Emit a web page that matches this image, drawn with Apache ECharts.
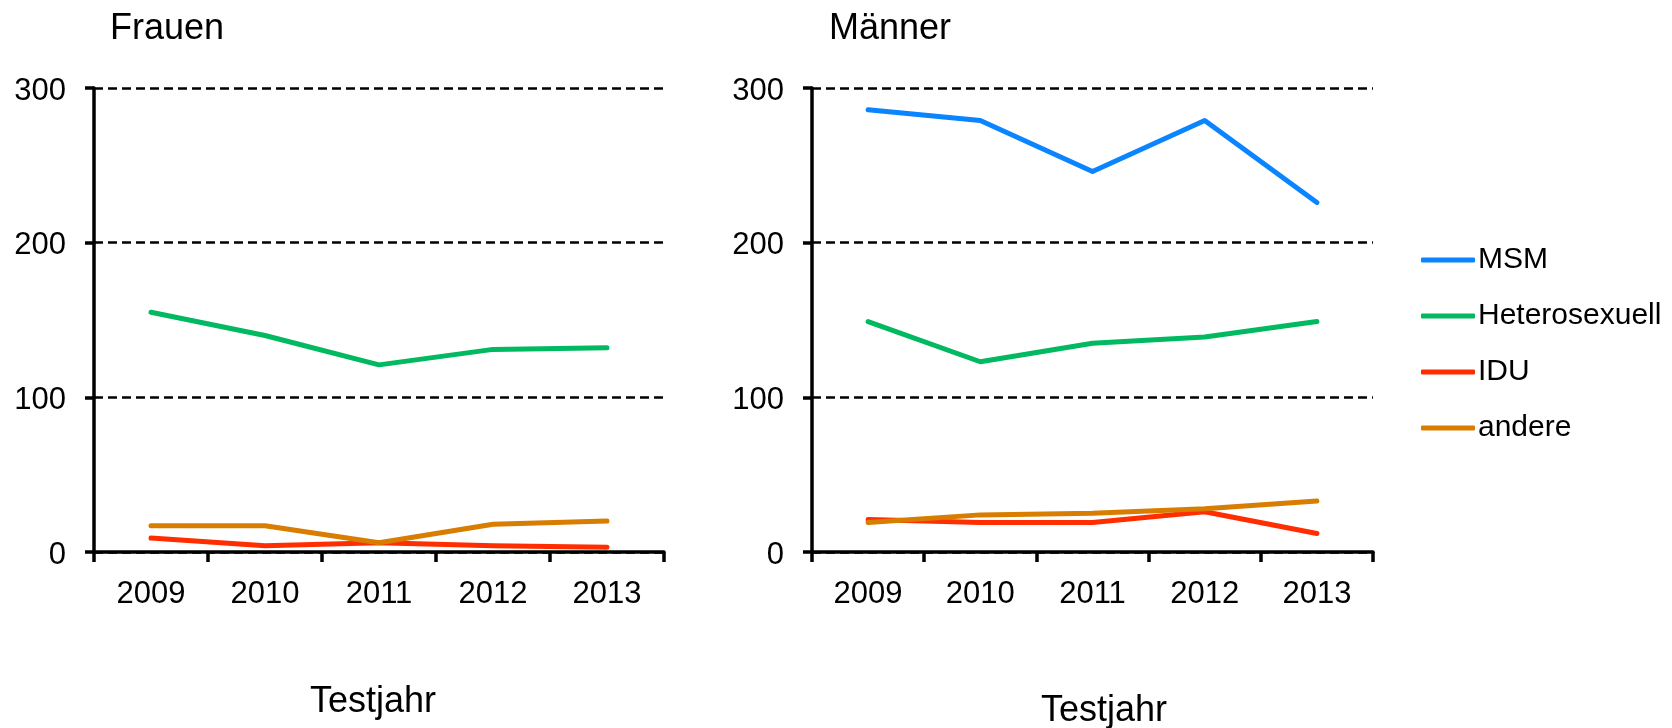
<!DOCTYPE html>
<html>
<head>
<meta charset="utf-8">
<script src="https://cdn.jsdelivr.net/npm/echarts@6/dist/echarts.min.js"></script>
<style>
  html, body { margin: 0; padding: 0; background: #fff; }
  #main { width: 1672px; height: 728px; }
</style>
</head>
<body>
<div id="main"></div>
<script>
// Testjahre
var years = ['2009', '2010', '2011', '2012', '2013'];
var seriesNames = ['MSM', 'Heterosexuell', 'IDU', 'andere'];
var yTicks = [0, 100, 200, 300];

// Frauen
var frauenHetero = [155, 140, 121, 131, 132];
var frauenIdu = [9, 4, 6, 4, 3];
var frauenAndere = [17, 17, 6, 18, 20];

// Männer
var maennerMsm = [286, 279, 246, 279, 226];
var maennerHetero = [149, 123, 135, 139, 149];
var maennerIdu = [21, 19, 19, 26, 12];
var maennerAndere = [19, 24, 25, 28, 33];

var colors = {
  'MSM': '#0b84ff',
  'Heterosexuell': '#00b960',
  'IDU': '#ff2d00',
  'andere': '#d97d00'
};

var font = '"Liberation Sans", Arial, sans-serif';

var chart = echarts.init(document.getElementById('main'), null, { renderer: 'canvas' });

function xAxisFor(idx) {
  return {
    type: 'category',
    gridIndex: idx,
    data: years,
    boundaryGap: true,
    axisLine: { lineStyle: { color: '#000', width: 3.5 } },
    axisTick: { show: true, length: 10, lineStyle: { color: '#000', width: 3.5 } },
    axisLabel: { color: '#000', fontSize: 31, fontFamily: font, margin: 27 },
    splitLine: { show: false }
  };
}

function yAxisFor(idx) {
  return {
    type: 'value',
    gridIndex: idx,
    min: yTicks[0],
    max: yTicks[yTicks.length - 1],
    interval: 100,
    axisLine: { show: true, lineStyle: { color: '#000', width: 3.5 } },
    axisTick: { show: true, length: 9, lineStyle: { color: '#000', width: 3.5 } },
    // small line box so the digits sit a little below the gridline, as in the original
    axisLabel: { color: '#000', fontSize: 31, fontFamily: font, margin: 28, verticalAlign: 'top', lineHeight: 6 },
    splitLine: { show: true, lineStyle: { color: '#000', width: 2.5, type: [9, 5] } }
  };
}

function line(name, data, idx) {
  return {
    name: name,
    type: 'line',
    xAxisIndex: idx,
    yAxisIndex: idx,
    data: data,
    symbol: 'none',
    color: colors[name],
    lineStyle: { width: 5, color: colors[name], cap: 'round', join: 'round' },
    animation: false
  };
}

var option = {
  backgroundColor: '#fff',
  animation: false,
  grid: [
    { left: 94, top: 88, width: 570, height: 464 },
    { left: 812, top: 88, width: 561, height: 464 }
  ],
  xAxis: [xAxisFor(0), xAxisFor(1)],
  yAxis: [yAxisFor(0), yAxisFor(1)],
  legend: {
    orient: 'vertical',
    left: 1416,
    top: 240,
    data: seriesNames,
    icon: 'roundRect',
    itemWidth: 54,
    itemHeight: 5,
    itemGap: 26,
    textStyle: { color: '#000', fontSize: 30, fontFamily: font, padding: [0, 0, 0, -2] }
  },
  graphic: [
    { type: 'text', left: 110, top: 11, style: { text: 'Frauen', fontSize: 36, fontFamily: font, fill: '#000' } },
    { type: 'text', left: 829, top: 11, style: { text: 'Männer', fontSize: 36, fontFamily: font, fill: '#000' } },
    { type: 'text', x: 373, y: 702, style: { text: 'Testjahr', fontSize: 36, fontFamily: font, fill: '#000', align: 'center', verticalAlign: 'middle' } },
    { type: 'text', x: 1104, y: 711, style: { text: 'Testjahr', fontSize: 36, fontFamily: font, fill: '#000', align: 'center', verticalAlign: 'middle' } }
  ],
  series: [
    line('Heterosexuell', frauenHetero, 0),
    line('IDU', frauenIdu, 0),
    line('andere', frauenAndere, 0),
    line('MSM', maennerMsm, 1),
    line('Heterosexuell', maennerHetero, 1),
    line('IDU', maennerIdu, 1),
    line('andere', maennerAndere, 1)
  ]
};

chart.setOption(option);
</script>
</body>
</html>
